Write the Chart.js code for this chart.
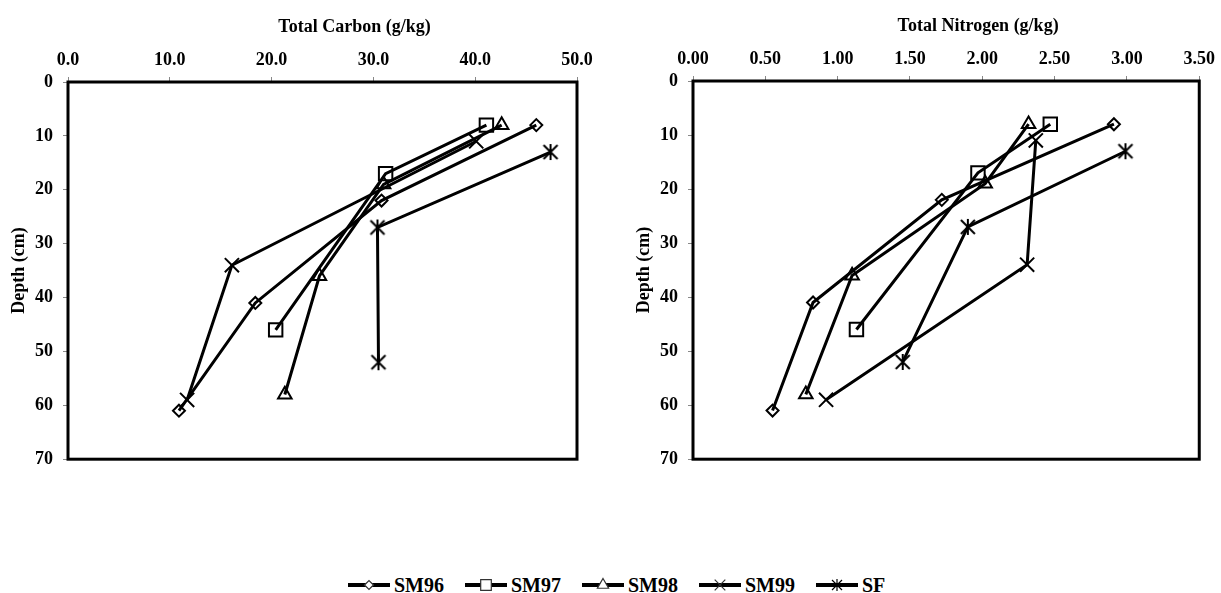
<!DOCTYPE html>
<html>
<head>
<meta charset="utf-8">
<script src="https://cdn.jsdelivr.net/npm/chart.js@4.4.0/dist/chart.umd.min.js"></script>
<style>
  body { margin: 0; background: #fff; width: 1221px; height: 593px; position: relative; overflow: hidden; font-family: 'Liberation Serif', serif; }
  #carbon { position: absolute; left: 0; top: 0; }
  #nitrogen { position: absolute; left: 610px; top: 0; }
  #legend { position: absolute; left: 348px; top: 572px; height: 26px; display: flex; align-items: center; }
  .item { display: flex; align-items: center; margin-right: 21px; font-weight: bold; font-size: 20px; color: #000; }
  .item canvas { margin-right: 4px; }
</style>
</head>
<body>
<canvas id="carbon" width="610" height="480"></canvas>
<canvas id="nitrogen" width="611" height="480"></canvas>
<div id="legend"></div>
<script>
const seriesNames = ["SM96", "SM97", "SM98", "SM99", "SF"];

// sampling depths (cm) for each site
const depthSM96 = [8, 22, 41, 61];
const depthSM97 = [8, 17, 46];
const depthSM98 = [8, 19, 36, 58];
const depthSM99 = [11, 34, 59];
const depthSF = [13, 27, 52];

// total carbon (g/kg)
const carbonSM96 = [46.0, 30.8, 18.4, 10.9];
const carbonSM97 = [41.1, 31.2, 20.4];
const carbonSM98 = [42.6, 31.0, 24.7, 21.3];
const carbonSM99 = [40.1, 16.1, 11.7];
const carbonSF = [47.4, 30.4, 30.5];

// total nitrogen (g/kg)
const nitrogenSM96 = [2.91, 1.72, 0.83, 0.55];
const nitrogenSM97 = [2.47, 1.97, 1.13];
const nitrogenSM98 = [2.32, 2.02, 1.10, 0.78];
const nitrogenSM99 = [2.37, 2.31, 0.92];
const nitrogenSF = [2.99, 1.90, 1.45];

const carbonTicks = [0, 10, 20, 30, 40, 50];
const nitrogenTicks = [0, 0.5, 1.0, 1.5, 2.0, 2.5, 3.0, 3.5];
const depthTicks = [0, 10, 20, 30, 40, 50, 60, 70];

const depths = [depthSM96, depthSM97, depthSM98, depthSM99, depthSF];
const carbon = [carbonSM96, carbonSM97, carbonSM98, carbonSM99, carbonSF];
const nitrogen = [nitrogenSM96, nitrogenSM97, nitrogenSM98, nitrogenSM99, nitrogenSF];

// asterisk marker for SF: an X with a vertical stroke
function makeAsterisk(size, d, r, lw) {
    const c = document.createElement("canvas");
    c.width = c.height = size;
    const g = c.getContext("2d");
    const m = size / 2;
    g.strokeStyle = "#000";
    g.lineWidth = lw;
    g.beginPath();
    g.moveTo(m - d, m - d); g.lineTo(m + d, m + d);
    g.moveTo(m + d, m - d); g.lineTo(m - d, m + d);
    g.moveTo(m, m - r); g.lineTo(m, m + r);
    g.stroke();
    return c;
}

const pointStyles = ["rectRot", "rect", "triangle", "crossRot", makeAsterisk(20, 7, 8, 2)];
const pointSizes = [6, 9.5, 7.8, 10, 10];

Chart.defaults.font.family = "'Liberation Serif', serif";
Chart.defaults.font.weight = "bold";
Chart.defaults.color = "#000";

const framePlugin = {
    id: "frame",
    beforeDatasetsDraw(chart, args, opts) {
        const { ctx, chartArea: a } = chart;
        ctx.save();
        ctx.lineWidth = 3;
        ctx.strokeStyle = "#000";
        ctx.strokeRect(a.left, a.top, a.right - a.left, a.bottom - a.top);
        ctx.font = "bold 18px 'Liberation Serif', serif";
        ctx.fillStyle = "#000";
        ctx.textAlign = "center";
        ctx.textBaseline = "middle";
        ctx.fillText(opts.title, (a.left + a.right) / 2 + 32, opts.titleY);
        ctx.restore();
    }
};

function buildDatasets(values) {
    return seriesNames.map((name, i) => ({
        label: name,
        data: values[i].map((v, k) => ({ x: v, y: depths[i][k] })),
        showLine: true,
        borderColor: "#000",
        borderWidth: 3,
        pointStyle: pointStyles[i],
        pointRadius: pointSizes[i],
        pointBorderWidth: 2,
        pointBorderColor: "#000",
        pointBackgroundColor: "rgba(0,0,0,0)"
    }));
}

function makeChart(id, values, xTicks, digits, opts) {
    const ctx = document.getElementById(id).getContext("2d");
    return new Chart(ctx, {
        type: "scatter",
        data: { datasets: buildDatasets(values) },
        options: {
            responsive: false,
            animation: false,
            devicePixelRatio: 1,
            layout: { padding: { left: 0, top: 0, right: opts.padRight, bottom: 18 } },
            plugins: {
                legend: { display: false },
                tooltip: { enabled: false },
                frame: { title: opts.title, titleY: opts.titleY }
            },
            scales: {
                x: {
                    type: "linear",
                    position: "top",
                    min: xTicks[0],
                    max: xTicks[xTicks.length - 1],
                    afterBuildTicks: (scale) => { scale.ticks = xTicks.map(v => ({ value: v })); },
                    ticks: {
                        font: { size: 18, weight: "bold" },
                        padding: 6,
                        maxRotation: 0,
                        callback: (v) => Number(v).toFixed(digits)
                    },
                    grid: { drawOnChartArea: false, tickLength: 5, color: "#888" },
                    border: { display: false },
                    afterFit: (scale) => { scale.height = opts.top; }
                },
                y: {
                    type: "linear",
                    reverse: true,
                    min: 0,
                    max: 70,
                    afterBuildTicks: (scale) => { scale.ticks = depthTicks.map(v => ({ value: v })); },
                    ticks: { font: { size: 18, weight: "bold" }, padding: 10 },
                    grid: { drawOnChartArea: false, tickLength: 5, color: "#888" },
                    border: { display: false },
                    title: {
                        display: true,
                        text: "Depth (cm)",
                        font: { size: 18, weight: "bold" },
                        padding: { top: opts.yTitlePad, bottom: 0 }
                    },
                    afterFit: (scale) => { scale.width = opts.left; }
                }
            }
        },
        plugins: [framePlugin]
    });
}

makeChart("carbon", carbon, carbonTicks, 1,
    { title: "Total Carbon (g/kg)", titleY: 27, top: 82, left: 68, padRight: 33, yTitlePad: 9 });
makeChart("nitrogen", nitrogen, nitrogenTicks, 2,
    { title: "Total Nitrogen (g/kg)", titleY: 26, top: 81, left: 83, padRight: 18, yTitlePad: 24 });

// shared legend under both panels
const legendSizes = [4.5, 7.5, 6.5, 7.5, 7.5];
const legend = document.getElementById("legend");
seriesNames.forEach((name, i) => {
    const item = document.createElement("div");
    item.className = "item";
    const c = document.createElement("canvas");
    c.width = 42;
    c.height = 20;
    const g = c.getContext("2d");
    g.strokeStyle = "#000";
    g.lineWidth = 4;
    g.beginPath();
    g.moveTo(0, 10);
    g.lineTo(42, 10);
    g.stroke();
    g.lineWidth = 1.2;
    g.strokeStyle = "#333";
    g.fillStyle = "#fff";
    const style = i === 4 ? makeAsterisk(16, 5, 6, 1.2) : pointStyles[i];
    Chart.helpers.drawPoint(g, { pointStyle: style, radius: legendSizes[i], rotation: 0, borderWidth: 1.2 }, 21, 10);
    item.appendChild(c);
    const label = document.createElement("span");
    label.textContent = name;
    item.appendChild(label);
    legend.appendChild(item);
});
</script>
</body>
</html>
